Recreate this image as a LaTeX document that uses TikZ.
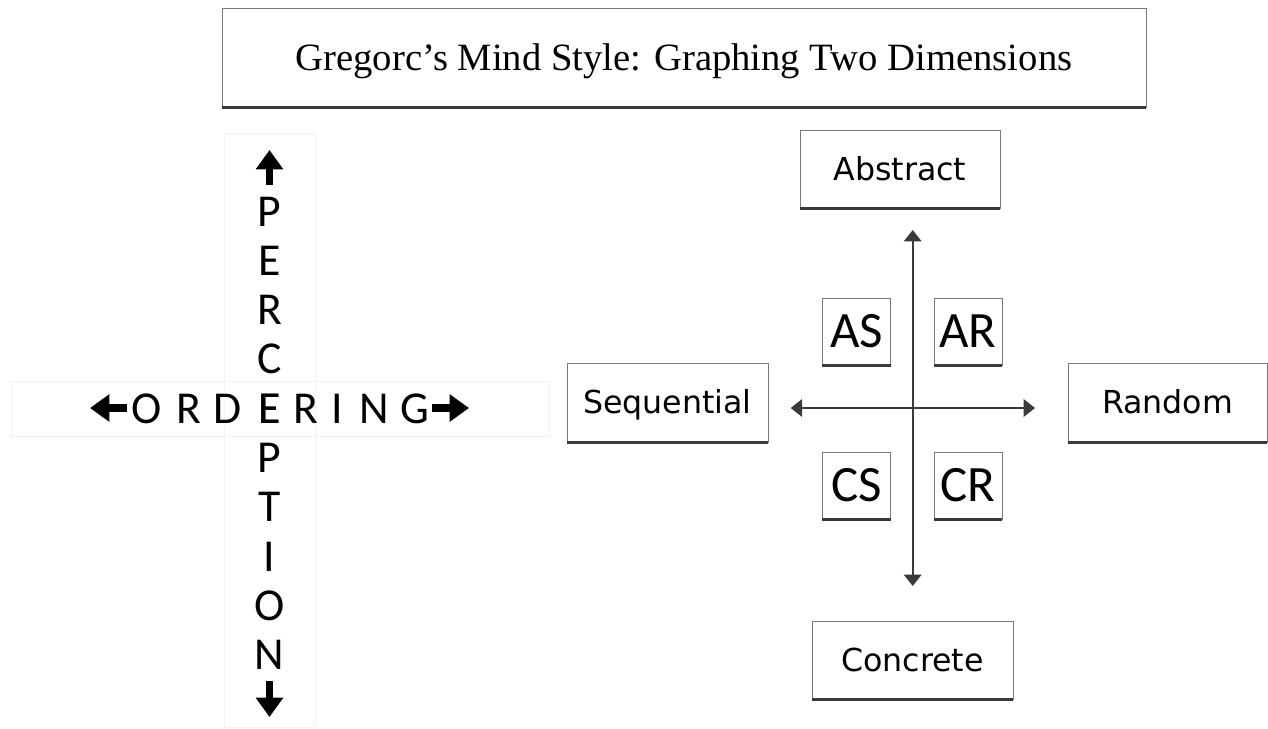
\documentclass[tikz,border=0pt]{standalone}
\usepackage{fontspec}
\usepackage{xcolor}
\usetikzlibrary{arrows.meta}
\setmainfont{Liberation Serif}
\newfontfamily\boxfont{DejaVu Sans}
\newfontfamily\letterfont{Carlito}
\definecolor{BoxGray}{HTML}{7A7A7A}
\definecolor{EdgeGray}{HTML}{3A3A3A}
\definecolor{FaintGray}{HTML}{F3F3F3}

\begin{document}
\begin{tikzpicture}[x=0.02cm, y=-0.02cm,
	labelbox/.style={draw=BoxGray, fill=white, inner sep=0pt, minimum width=4cm, minimum height=1.56cm, text height=13pt, text depth=0pt, font=\boxfont\fontsize{18}{20}\selectfont},
	quadbox/.style={draw=BoxGray, fill=white, inner sep=0pt, minimum width=1.36cm, minimum height=1.34cm, text height=18pt, text depth=0pt, font=\letterfont\fontsize{29}{30}\selectfont},
	axis/.style={EdgeGray, line width=1.1pt, >={Triangle[length=6.5pt,width=10pt]}, <->},
	letter/.style={anchor=base, inner sep=0pt, font=\letterfont\fontsize{26}{26}\selectfont},
	bigarrow/.style={line width=4pt, -{Triangle[length=11pt,width=15pt]}}]
				\useasboundingbox (0,0) rectangle (1268,728);

				\node[draw=BoxGray, inner sep=0pt, minimum width=18.48cm, minimum height=1.98cm, text height=14.5pt, text depth=0pt, font=\fontsize{22}{24}\selectfont] (title) at (684,57.5) {Gregorc’s Mind Style: Graphing Two Dimensions};

				% left cross of letters
				\draw[FaintGray] (11.5,381) rectangle (549,436);
				\draw[FaintGray] (224,133) rectangle (315,727.5);
				\foreach \ch/\x [count=\i] in {O/146.5, R/188.5, D/227.5, E/269.5, R/306, I/337.5, N/374, G/415} {
					\node[letter] (ord\i) at (\x,423) {\ch};
				}
				\foreach \ch/\y [count=\i] in {P/211, E/260, R/309, C/358, E/408, P/457, T/506, I/556, O/605, N/654} {
					\node[letter] (per\i) at (269.5,\y+15) {\ch};
				}
				\draw[bigarrow] (127,408) -- (90,408);
				\draw[bigarrow] (432,408) -- (469,408);
				\draw[bigarrow] (269.5,185) -- (269.5,150);
				\draw[bigarrow] (269.5,681) -- (269.5,717);

				% right graph
				\node[labelbox] (abs) at (900,169) {Abstract};
				\node[labelbox, minimum width=4.02cm, minimum height=1.58cm] (seq) at (667.5,402.5) {Sequential};
				\node[labelbox, minimum width=3.98cm, minimum height=1.58cm] (rnd) at (1167.5,402.5) {Random};
				\node[labelbox, minimum width=4.02cm] (con) at (912.5,660) {Concrete};
				\node[quadbox] (as) at (856.5,331.5) {AS};
				\node[quadbox] (ar) at (968,331.5) {AR};
				\node[quadbox] (cs) at (856.5,485.5) {CS};
				\node[quadbox] (cr) at (968,485.5) {CR};
				\foreach \n in {title,abs,seq,rnd,con,as,ar,cs,cr}
					\draw[EdgeGray, line width=1.6pt] (\n.south west) -- (\n.south east);

				\coordinate (axN) at (912.7,230);
				\coordinate (axS) at (912.7,586);
				\coordinate (axW) at (790.7,408);
				\coordinate (axE) at (1035,408);
				\draw[axis] (axS) -- (axN);
				\draw[axis] (axW) -- (axE);

			\end{tikzpicture}
\end{document}
